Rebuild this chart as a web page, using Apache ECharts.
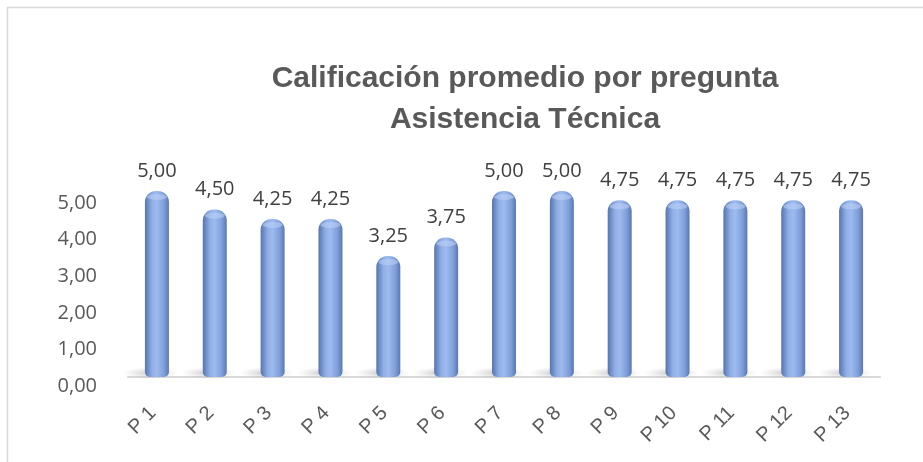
<!DOCTYPE html>
<html>
<head>
<meta charset="utf-8">
<script src="https://cdn.jsdelivr.net/npm/echarts@6/dist/echarts.min.js"></script>
<style>
  html, body { margin: 0; padding: 0; background: #fff; }
  #calificacion { width: 923px; height: 462px; }
</style>
</head>
<body>
<div id="calificacion"></div>
<script>
// datos
var preguntas = ["P 1", "P 2", "P 3", "P 4", "P 5", "P 6", "P 7", "P 8", "P 9", "P 10", "P 11", "P 12", "P 13"];
var promedios = [5.0, 4.5, 4.25, 4.25, 3.25, 3.75, 5.0, 5.0, 4.75, 4.75, 4.75, 4.75, 4.75];
var titulo = "Calificación promedio por pregunta\nAsistencia Técnica";

var chartDom = document.getElementById("calificacion");
var myChart = echarts.init(chartDom);
var option;

// formato con coma decimal
var coma = function (v) {
  return Number(v).toFixed(2).replace(".", ",");
};

// degradado horizontal para simular el cilindro
var cilindro = new echarts.graphic.LinearGradient(0, 0, 1, 0, [
  { offset: 0, color: "#5674b0" },
  { offset: 0.3, color: "#90afe6" },
  { offset: 0.5, color: "#9dbbef" },
  { offset: 0.8, color: "#7f9ed8" },
  { offset: 1, color: "#5877b4" },
]);

var sombra = new echarts.graphic.RadialGradient(0.5, 0.5, 0.5, [
  { offset: 0, color: "rgba(90,90,90,0.35)" },
  { offset: 1, color: "rgba(160,160,160,0)" },
]);

option = {
  animation: false,
  backgroundColor: "#fff",
  title: {
    text: titulo,
    left: 520,
    top: 53,
    textAlign: "center",
    textStyle: {
      fontFamily: "'Liberation Sans', Arial, sans-serif",
      fontWeight: "bold",
      fontSize: 30,
      lineHeight: 41,
      color: "#595959",
    },
  },
  graphic: [
    {
      type: "rect",
      shape: { x: 7.5, y: 7.5, width: 1000, height: 1000 },
      style: { fill: "none", stroke: "#d9d9d9", lineWidth: 1.5 },
      silent: true,
    },
  ],
  grid: [
    { left: 128, right: 43, top: 191, bottom: 85 },
    // rejilla auxiliar solo para las etiquetas del eje Y
    { left: 128, right: 43, top: 203, bottom: 76 },
  ],
  xAxis: [
    {
      type: "category",
      data: preguntas,
      offset: 8,
      axisLine: { show: true, lineStyle: { color: "#d9d9d9", width: 2 } },
      axisTick: { show: false },
      axisLabel: {
        rotate: 45,
        margin: 21,
        fontFamily: "'Liberation Sans', Arial, sans-serif",
        fontSize: 20,
        color: "#595959",
        // espacio final para correr la etiqueta hacia abajo a la izquierda
        formatter: function (v) {
          return v + " ";
        },
      },
    },
    {
      type: "category",
      gridIndex: 1,
      data: preguntas,
      show: false,
    },
  ],
  yAxis: [
    {
      type: "value",
      min: 0,
      max: 5,
      interval: 1,
      show: false,
    },
    {
      type: "value",
      gridIndex: 1,
      min: 0,
      max: 5,
      interval: 1,
      splitLine: { show: false },
      axisLine: { show: false },
      axisTick: { show: false },
      axisLabel: {
        margin: 31,
        fontFamily: "'Open Sans', 'Noto Sans', sans-serif",
        fontSize: 20,
        color: "#595959",
        formatter: coma,
      },
    },
  ],
  series: [
    {
      name: "sombra",
      type: "pictorialBar",
      data: promedios.map(function () { return 0; }),
      symbol: "circle",
      symbolSize: [56, 12],
      symbolOffset: [-6, 2],
      itemStyle: { color: sombra },
      silent: true,
      z: 1,
    },
    {
      name: "promedio",
      type: "bar",
      data: promedios,
      barWidth: 24,
      itemStyle: {
        color: cilindro,
        borderRadius: [11, 11, 5, 5],
      },
      label: {
        show: true,
        position: "top",
        distance: 10,
        fontFamily: "'Open Sans', 'Noto Sans', sans-serif",
        fontSize: 20,
        color: "#404040",
        formatter: function (p) {
          return coma(p.value);
        },
      },
      z: 2,
    },
    {
      name: "tapa",
      type: "pictorialBar",
      data: promedios,
      symbol: "circle",
      symbolPosition: "end",
      symbolSize: [20, 6],
      symbolOffset: [0, 3],
      itemStyle: { color: "rgba(190,210,245,0.55)" },
      silent: true,
      z: 3,
    },
  ],
};

option && myChart.setOption(option);
</script>
</body>
</html>
